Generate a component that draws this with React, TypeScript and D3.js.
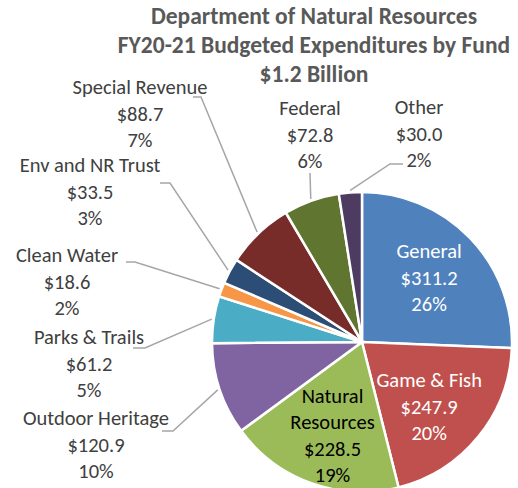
import * as d3 from 'd3';
import React from 'react';

const funds = ['General', 'Game & Fish', 'Natural Resources', 'Outdoor Heritage', 'Parks & Trails',
    'Clean Water', 'Env and NR Trust', 'Special Revenue', 'Federal', 'Other'];
const amounts = [311.2, 247.9, 228.5, 120.9, 61.2, 18.6, 33.5, 88.7, 72.8, 30.0];
const percents = ['26%', '20%', '19%', '10%', '5%', '2%', '3%', '7%', '6%', '2%'];
const colors = ['#4f81bd', '#c0504d', '#9bbb59', '#8064a2', '#4bacc6',
    '#f79646', '#2c4d75', '#772c2a', '#5f7530', '#4d3b62'];
const titleLines = ['Department of Natural Resources', 'FY20-21 Budgeted Expenditures by Fund', '$1.2 Billion'];

// label layout (where excel had them dragged to)
// inside: nudge from the slice centroid. outside: text center x, first line y, leader elbow
const labelLayout: any[] = [
    { dx: 0, dy: 0 },
    { dx: -5, dy: 6 },
    { dx: 2, dy: 6 },
    { x: 96, y: 418, ex: 173, ey: 431, tx: 162 },
    { x: 89, y: 337, ex: 145, ey: 348, tx: 133 },
    { x: 67, y: 255, ex: 135, ey: 262, tx: 126 },
    { x: 90, y: 165, ex: 170, ey: 183, tx: 160 },
    { x: 140, y: 87, ex: 201, ey: 97, tx: 193 },
    { x: 310, y: 108, ex: 310, ey: 173, tx: 310 },
    { x: 419, y: 107, ex: 390, ey: 164, tx: 403 },
];
const insideText = ['#ffffff', '#ffffff', '#000000'];

export default function App() {
    const width = 518, height = 488;
    const cx = 362, cy = 342, r = 150;
    const lineH = 26.5;
    const fs = 20.5;

    const pie = d3.pie<number>().sort(null).value(d => d);
    const arcs = pie(amounts);
    const arc = d3.arc<d3.PieArcDatum<number>>().innerRadius(0).outerRadius(r);
    const labelArc = d3.arc<d3.PieArcDatum<number>>().innerRadius(r * 0.62).outerRadius(r * 0.62);
    const edgeArc = d3.arc<d3.PieArcDatum<number>>().innerRadius(r + 2).outerRadius(r + 2);

    const lines = (i: number) => [...funds[i] === 'Natural Resources' ? ['Natural', 'Resources'] : [funds[i]],
        '$' + d3.format('.1f')(amounts[i]), percents[i]];

    return (
        <svg width={width} height={height} style={{ position: 'absolute', left: 0, top: 0 }}
            fontFamily="Carlito, Lato, sans-serif">
            <rect width={width} height={height} fill="#fff" />
            {titleLines.map((t, i) => (
                <text key={t} x={314} y={24 + i * 29} textAnchor="middle" fontSize={23.5}
                    fontWeight="bold" fill="#595959">{t}</text>
            ))}
            <g transform={`translate(${cx},${cy})`}>
                {arcs.map((a, i) => (
                    <path key={funds[i]} d={arc(a) || ''} fill={colors[i]} stroke="#fff" strokeWidth={2.5} />
                ))}
                {arcs.map((a, i) => {
                    const lay = labelLayout[i];
                    if (lay.x !== undefined) return null;
                    const [x0, y] = labelArc.centroid(a);
                    const x = x0 + lay.dx;
                    const ls = lines(i);
                    const y0 = y - (ls.length - 1) * lineH / 2 + lay.dy;
                    return (
                        <text key={funds[i]} textAnchor="middle" fontSize={fs} fill={insideText[i]}>
                            {ls.map((l, j) => (
                                <tspan key={j} x={x} y={y0 + j * lineH} dy="0.35em">{l}</tspan>
                            ))}
                        </text>
                    );
                })}
            </g>
            {arcs.map((a, i) => {
                const lay = labelLayout[i];
                if (lay.x === undefined) return null;
                const [px, py] = edgeArc.centroid(a);
                const pts: [number, number][] = [[lay.tx, lay.ey], [lay.ex, lay.ey], [cx + px, cy + py]];
                return (
                    <g key={funds[i]}>
                        <path d={d3.line()(pts) || ''} fill="none" stroke="#a6a6a6" strokeWidth={1.5} />
                        <text textAnchor="middle" fontSize={fs} fill="#404040">
                            {lines(i).map((l, j) => (
                                <tspan key={j} x={lay.x} y={lay.y + j * lineH} dy="0.35em">{l}</tspan>
                            ))}
                        </text>
                    </g>
                );
            })}
        </svg>
    );
}
